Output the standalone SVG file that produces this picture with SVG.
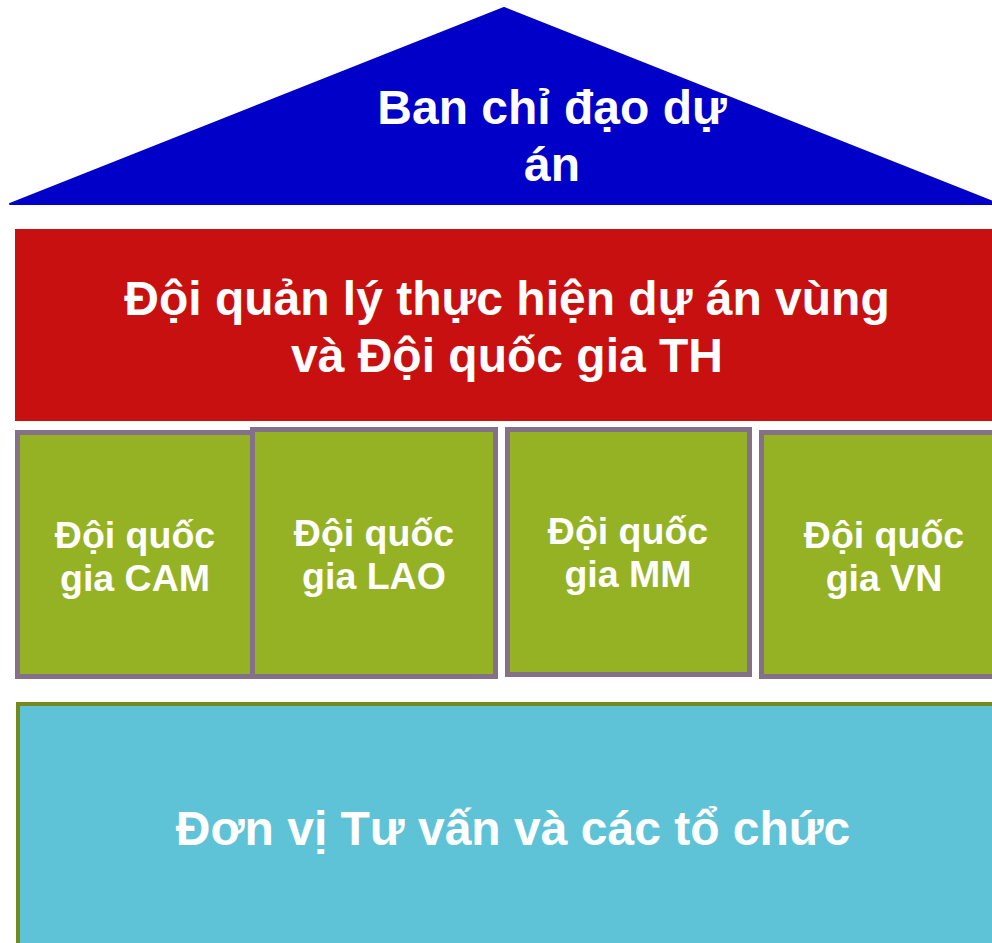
<svg xmlns="http://www.w3.org/2000/svg" width="992" height="943" viewBox="0 0 992 943">
<style>
.t{font-family:"Liberation Sans",Arial,sans-serif;font-weight:bold;fill:#FFFFFF;text-anchor:middle}
.big{font-size:48px}
.mid{font-size:37.5px}
.box{fill:#95B224;stroke:#85708A;stroke-width:5}
</style>
<rect width="992" height="943" fill="#FFFFFF"/>
<g id="steering">
<polygon points="504,8 998,204 10,204" fill="#0000C8" stroke="#0000C8" stroke-width="2" stroke-linejoin="round"/>
<text class="t big" x="552" y="124">Ban chỉ đạo dự</text>
<text class="t big" x="552" y="181">án</text>
</g>
<g id="regional">
<rect x="15" y="229" width="990" height="192" fill="#C81010"/>
<text class="t big" x="507" y="315">Đội quản lý thực hiện dự án vùng</text>
<text class="t big" x="507" y="372">và Đội quốc gia TH</text>
</g>
<g id="cam">
<rect class="box" x="17.5" y="432.5" width="236" height="244"/>
<text class="t mid" x="135" y="548">Đội quốc</text>
<text class="t mid" x="135" y="591">gia CAM</text>
</g>
<g id="lao">
<rect class="box" x="252.5" y="429.5" width="243" height="247"/>
<text class="t mid" x="374" y="546">Đội quốc</text>
<text class="t mid" x="374" y="589">gia LAO</text>
</g>
<g id="mm">
<rect class="box" x="507.5" y="429.5" width="242" height="245"/>
<text class="t mid" x="628" y="544">Đội quốc</text>
<text class="t mid" x="628" y="587">gia MM</text>
</g>
<g id="vn">
<rect class="box" x="761.5" y="432.5" width="250" height="244"/>
<text class="t mid" x="884" y="548">Đội quốc</text>
<text class="t mid" x="884" y="591">gia VN</text>
</g>
<g id="consultants">
<rect x="18" y="704" width="990" height="260" fill="#5FC3D7" stroke="#748A1D" stroke-width="4"/>
<text class="t big" x="513" y="845">Đơn vị Tư vấn và các tổ chức</text>
</g>
<g id="connectors"/>
</svg>
